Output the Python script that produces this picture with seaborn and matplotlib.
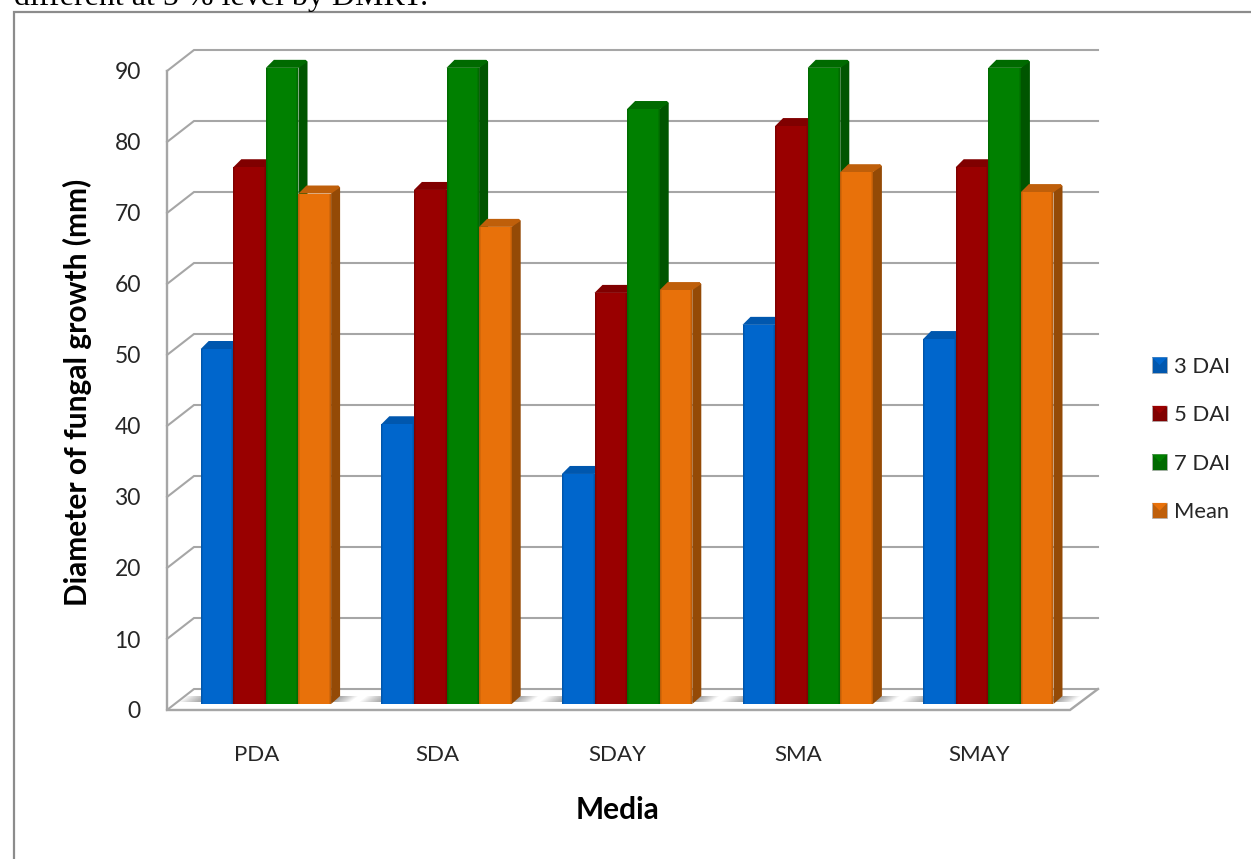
import matplotlib
matplotlib.use("Agg")
import matplotlib.pyplot as plt
import matplotlib.transforms as mtransforms
from matplotlib.legend_handler import HandlerPatch
from matplotlib.patches import Polygon, Rectangle
import pandas as pd
import seaborn as sns

media = ["PDA", "SDA", "SDAY", "SMA", "SMAY"]
dai_3 = [50.0, 39.4, 32.4, 53.4, 51.4]
dai_5 = [75.6, 72.4, 57.9, 81.4, 75.6]
dai_7 = [89.6, 89.6, 83.8, 89.6, 89.6]
mean_growth = [71.9, 67.2, 58.3, 74.9, 72.1]
series_names = ["3 DAI", "5 DAI", "7 DAI", "Mean"]
y_ticks = [0, 10, 20, 30, 40, 50, 60, 70, 80, 90]

face_colors = ["#0066CC", "#990000", "#008000", "#E8710A"]
top_colors = ["#0057AE", "#800000", "#006A00", "#BF5F0A"]
side_colors = ["#004C99", "#6E0000", "#005500", "#944A06"]

W, H = 1251, 859
GRID = "#A6A6A6"
FONT = "Lato"

plt.rcParams["font.family"] = [FONT, "DejaVu Sans"]
sns.set_theme(style="white", rc={"font.family": [FONT, "DejaVu Sans"]})

table = pd.DataFrame({"Media": media, "3 DAI": dai_3, "5 DAI": dai_5,
                      "7 DAI": dai_7, "Mean": mean_growth})
long_table = table.melt(id_vars="Media", var_name="Series", value_name="Growth")

fig = plt.figure(figsize=(W / 100, H / 100), dpi=100, facecolor="white")
left, right, bottom, top = 175.6, 1078.6, 704.0, 65.0
ax = fig.add_axes([left / W, 1 - bottom / H, (right - left) / W, (bottom - top) / H])

sns.barplot(data=long_table, x="Media", y="Growth", hue="Series",
            hue_order=series_names, order=media, palette=face_colors,
            width=0.722, saturation=1, gap=0, linewidth=0, ax=ax, legend=False)
ax.set_xlim(-0.5, 4.5)
ax.set_ylim(0, 90)
ax.patch.set_alpha(0)
sns.despine(ax=ax, left=True, bottom=True, top=True, right=True)

pixel = mtransforms.IdentityTransform()


def to_display(px, py):
    """Image coordinates (y down) to display coordinates."""
    return (px, H - py)


def value_row(value):
    """Image row of a value on the plane through the bar fronts."""
    return H - ax.transData.transform((0, value))[1]


def seg(points, **kw):
    xs, ys = zip(*[to_display(*p) for p in points])
    ax.plot(xs, ys, transform=pixel, clip_on=False, solid_capstyle="projecting", **kw)


# Walls and floor of the 3-D box: front plane sits below the bars, back plane above
front_drop, back_rise = 6, 15
wall_front, wall_back, wall_end = 167, 194, 1098
floor_front_end = 1070
for v in y_ticks:
    row = value_row(v)
    seg([(wall_front, row + front_drop), (wall_back, row - back_rise), (wall_end, row - back_rise)],
        color=GRID, lw=1.5, zorder=1, solid_joinstyle="miter")
seg([(wall_front, value_row(90) + front_drop), (wall_front, value_row(0) + front_drop),
     (floor_front_end, value_row(0) + front_drop), (wall_end, value_row(0) - back_rise)],
    color=GRID, lw=1.7, zorder=1.2, solid_joinstyle="miter")

# Soft shadow on the floor on either side of each group of bars
floor_y0, floor_y1 = value_row(0) - 8, value_row(0) - 2
first_bars, last_bars = ax.containers[0], ax.containers[-1]
for first, last in zip(first_bars, last_bars):
    x0 = ax.transData.transform((first.get_x(), 0))[0]
    x1 = ax.transData.transform((last.get_x() + last.get_width(), 0))[0] + 9
    steps = 14
    for k in range(steps):
        reach_l, reach_r = 22 * (k + 1) / steps, 18 * (k + 1) / steps
        poly = [to_display(x0 - reach_l + 8, floor_y0), to_display(x1 + reach_r, floor_y0),
                to_display(x1 + reach_r - 8, floor_y1), to_display(x0 - reach_l, floor_y1)]
        ax.add_patch(Polygon(poly, closed=True, transform=pixel, facecolor="black",
                             alpha=0.026, linewidth=0, zorder=1.5, clip_on=False))

# Extrude each bar: side and top faces, plus darker shading along the front edges
dx, dy = 9, 8
for h, bars in enumerate(ax.containers):
    base_z = 3 + h
    for bar in bars:
        (x0, y0) = ax.transData.transform((bar.get_x(), 0))
        (x1, y1) = ax.transData.transform((bar.get_x() + bar.get_width(), bar.get_height()))
        bar.set_zorder(base_z + 0.5)
        ax.add_patch(Polygon([(x1, y0), (x1 + dx, y0 + dy), (x1 + dx, y1 + dy - 2), (x1 + dx - 2, y1 + dy), (x1, y1)],
                             closed=True, transform=pixel, facecolor=side_colors[h],
                             linewidth=0, zorder=base_z, clip_on=False))
        ax.add_patch(Polygon([(x0, y1), (x0 + dx - 1, y1 + dy), (x1 + dx - 2, y1 + dy), (x1 + dx, y1 + dy - 2), (x1, y1)],
                             closed=True, transform=pixel, facecolor=top_colors[h],
                             linewidth=0, zorder=base_z + 0.2, clip_on=False))
        for offset, alpha in [(0, 0.16), (1, 0.08)]:
            for edge in (x0 + offset, x1 - offset - 1):
                ax.add_patch(Rectangle((edge, y0), 1, y1 - y0, transform=pixel, facecolor="black",
                                       alpha=alpha, linewidth=0, zorder=base_z + 0.6, clip_on=False))

# Tick labels sit on the front plane of the box
ax.set_yticks(y_ticks)
ax.set_xticks(range(len(media)), media)
ax.tick_params(axis="y", length=0, pad=25, labelsize=16.5, labelcolor="#262626")
ax.tick_params(axis="x", length=0, pad=29.5, labelsize=16, labelcolor="#262626")
drop = mtransforms.ScaledTranslation(0, -6 / 100, fig.dpi_scale_trans)
for label in ax.get_yticklabels():
    label.set_transform(label.get_transform() + drop)
shift = mtransforms.ScaledTranslation(-9.5 / 100, 0, fig.dpi_scale_trans)
for label in ax.get_xticklabels():
    label.set_transform(label.get_transform() + shift)

ax.set_xlabel("Media", fontsize=21.5, fontweight="bold", color="black")
ax.set_ylabel("Diameter of fungal growth (mm)", fontsize=21.5, fontweight="bold", color="black")
ax.xaxis.set_label_coords(618 / W, 1 - 810 / H, transform=fig.transFigure)
ax.xaxis.label.set_verticalalignment("center")
ax.yaxis.set_label_coords(77 / W, 1 - 392 / H, transform=fig.transFigure)
ax.yaxis.label.set_verticalalignment("center")


class BevelHandler(HandlerPatch):
    """Small square key with a lit upper facet, like the bevelled bars."""

    def create_artists(self, legend, orig_handle, xdescent, ydescent, width, height, fontsize, trans):
        h = series_names.index(orig_handle.get_label())
        x0, y0 = -xdescent, -ydescent
        x1, y1 = x0 + width, y0 + height
        xc, yc = (x0 + x1) / 2, (y0 + y1) / 2
        base = Rectangle((x0, y0), width, height, facecolor=top_colors[h],
                         edgecolor="#B0B0B0", linewidth=0.5, transform=trans)
        upper = Polygon([(x0, y1), (x1, y1), (xc, yc)], closed=True,
                        facecolor=face_colors[h], linewidth=0, transform=trans)
        return [base, upper]


key_handles = [Rectangle((0, 0), 1, 1, label=name) for name in series_names]
fig.legend(handles=key_handles, labels=series_names, loc="center left",
           bbox_to_anchor=(1152 / W, 1 - 439.5 / H), frameon=False, fontsize=15.8,
           handler_map={Rectangle: BevelHandler()}, handlelength=0.7, handleheight=0.7,
           handletextpad=0.32, labelspacing=1.3, borderpad=0, borderaxespad=0,
           labelcolor="#262626")

# Panel border and the line of body text running above it
fig.add_artist(plt.Line2D([14 / W, 14 / W, 1], [0, 1 - 12 / H, 1 - 12 / H],
                          color="#8C8C8C", lw=1.6, solid_joinstyle="miter"))
fig.text(14 / W, 1 - 5 / H, "different at 5 % level by DMRT.", family="Liberation Serif",
         fontsize=23, color="black", va="baseline", ha="left")

fig.savefig("out.png", dpi=100, facecolor="white")
